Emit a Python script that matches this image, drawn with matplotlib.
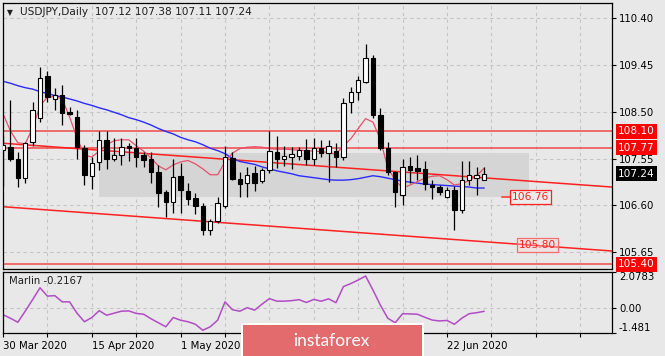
import numpy as np
import pandas as pd
import matplotlib
matplotlib.use('Agg')
import matplotlib.pyplot as plt
from matplotlib import transforms
from matplotlib.patches import Rectangle

# ---------------- data ----------------
symbol = 'USDJPY,Daily'
header_ohlc = [107.12, 107.38, 107.11, 107.24]
start_date = '2020-03-30'

opens = [107.72, 107.79, 107.55, 107.15, 107.88, 108.37, 109.23, 108.76, 108.84, 108.49,
         108.40, 107.76, 107.19, 107.47, 107.93, 107.53, 107.62, 107.81, 107.76, 107.62,
         107.55, 107.27, 106.86, 106.67, 107.19, 106.89, 106.75, 106.58, 106.10, 106.27,
         106.58, 107.57, 107.13, 107.05, 107.26, 107.10, 107.32, 107.69, 107.53, 107.59,
         107.60, 107.72, 107.55, 107.76, 107.66, 107.70, 107.58, 108.69, 108.90, 109.11,
         109.60, 108.43, 107.76, 107.28, 106.81, 107.40, 107.36, 107.33, 107.02, 106.98,
         106.77, 106.91, 106.50, 107.11, 107.15, 107.12]
highs = [108.00, 108.74, 107.69, 107.89, 108.70, 109.40, 109.33, 108.98, 109.04, 108.60,
         108.54, 107.82, 107.59, 108.10, 108.10, 107.96, 107.96, 107.86, 107.96, 107.69,
         107.69, 107.42, 106.91, 107.53, 107.45, 107.05, 106.84, 106.64, 106.33, 106.77,
         107.80, 107.69, 107.28, 107.38, 107.40, 107.35, 108.10, 108.00, 107.80, 107.79,
         107.79, 107.94, 107.96, 107.93, 107.93, 107.86, 108.77, 109.00, 109.23, 109.88,
         109.65, 108.57, 107.89, 107.30, 107.55, 107.59, 107.62, 107.49, 107.11, 107.01,
         106.98, 106.99, 107.49, 107.49, 107.38, 107.38]
lows = [107.00, 107.49, 106.98, 107.05, 107.81, 108.30, 108.70, 108.54, 108.23, 108.43,
        107.54, 107.01, 106.94, 107.32, 107.34, 107.49, 107.42, 107.49, 107.38, 107.38,
        107.05, 106.57, 106.37, 106.44, 106.44, 106.61, 106.42, 106.00, 106.00, 106.23,
        106.54, 107.12, 106.77, 106.77, 106.88, 107.05, 107.26, 107.35, 107.40, 107.33,
        107.51, 107.42, 107.42, 107.59, 107.08, 107.38, 107.52, 108.47, 108.73, 109.08,
        108.37, 107.72, 107.21, 106.57, 106.60, 107.05, 107.11, 106.91, 106.72, 106.81,
        106.75, 106.10, 106.44, 107.01, 106.81, 107.11]
closes = [107.82, 107.55, 107.15, 107.86, 108.54, 109.19, 108.81, 108.84, 108.47, 108.46,
          107.79, 107.22, 107.45, 107.93, 107.55, 107.62, 107.79, 107.76, 107.59, 107.52,
          107.27, 106.84, 106.66, 107.17, 106.91, 106.72, 106.58, 106.10, 106.27, 106.65,
          107.59, 107.13, 107.03, 107.22, 107.06, 107.32, 107.71, 107.53, 107.60, 107.64,
          107.72, 107.55, 107.76, 107.67, 107.80, 107.58, 108.67, 108.91, 109.15, 109.59,
          108.43, 107.76, 107.28, 106.86, 107.38, 107.32, 107.30, 107.03, 106.97, 106.86,
          106.91, 106.50, 107.11, 107.21, 107.22, 107.24]

ma_blue = [109.12, 109.08, 109.03, 108.99, 108.96, 108.91, 108.87, 108.83, 108.80, 108.76,
           108.72, 108.67, 108.63, 108.58, 108.54, 108.49, 108.44, 108.38, 108.34, 108.29,
           108.23, 108.16, 108.10, 108.05, 107.98, 107.93, 107.89, 107.83, 107.76, 107.71,
           107.65, 107.55, 107.49, 107.46, 107.43, 107.38, 107.34, 107.30, 107.27, 107.24,
           107.20, 107.18, 107.16, 107.14, 107.12, 107.11, 107.11, 107.12, 107.14, 107.17,
           107.20, 107.18, 107.15, 107.12, 107.09, 107.07, 107.05, 107.03, 107.02, 107.01,
           107.00, 106.99, 106.98, 106.97, 106.95, 106.95]
ma_red = [108.46, 108.11, 107.87, 107.85, 108.17, 108.62, 108.80, 108.81, 108.76, 108.39,
          107.97, 107.62, 107.58, 107.70, 107.83, 107.91, 107.93, 107.93, 107.81, 107.70,
          107.56, 107.40, 107.32, 107.42, 107.48, 107.51, 107.44, 107.34, 107.22, 107.22,
          107.48, 107.66, 107.75, 107.78, 107.79, 107.78, 107.75, 107.74, 107.74, 107.73,
          107.72, 107.71, 107.70, 107.69, 107.67, 107.64, 107.81, 107.95, 108.16, 108.36,
          108.29, 107.93, 107.36, 107.11, 106.95, 107.01, 107.08, 107.15, 107.19, 107.20,
          107.12, 107.01, 107.04, 107.10, 107.20, 107.35]
marlin = [-0.411, -0.613, -0.845, -0.208, 0.457, 1.140, 0.660, 0.689, 0.330, 0.330,
          -0.324, -0.816, -0.573, -0.179, -0.440, -0.324, -0.208, -0.191, -0.336, -0.382,
          -0.642, -0.874, -1.105, -0.573, -0.729, -0.816, -0.961, -1.308, -1.105, -0.729,
          0.330, -0.122, -0.208, -0.006, -0.150, 0.197, 0.515, 0.370, 0.370, 0.399,
          0.457, 0.295, 0.469, 0.370, 0.503, 0.284, 1.209, 1.383, 1.586, 1.817,
          1.007, 0.139, -0.613, -0.874, -0.353, -0.365, -0.382, -0.556, -0.718, -0.770,
          -0.741, -0.961, -0.613, -0.353, -0.295, -0.2167]

level_lines = [108.10, 107.77, 105.40]
trend_upper = [(0, 107.86), (82.3, 106.97)]
trend_lower = [(0, 106.57), (82.3, 105.67)]
range_box = {'start': 13.0, 'end': 71.1, 'low': 106.77, 'high': 107.66}
label_106 = 106.76
label_105 = 105.80

price_ticks = [110.40, 109.45, 108.50, 107.55, 106.60, 105.65]
marlin_ticks = [2.0783, 0.0, -1.481]
marlin_tick_labels = ['2.0783', '0.00', '-1.481']
date_label_days = ['2020-03-30', '2020-04-15', '2020-05-01', '2020-06-22']
date_tick_days = ['2020-04-07', '2020-04-23', '2020-05-11', '2020-05-19', '2020-05-27',
                  '2020-06-04', '2020-06-12', '2020-06-30', '2020-07-08', '2020-07-16']

# ---------------- figure ----------------
W, H = 665, 356
BG = '#e8e8e8'
GRID = '#c4c4c4'
FONT = 'DejaVu Sans'
FS = 7.3

fig = plt.figure(figsize=(W / 100, H / 100), dpi=100, facecolor=BG)

def fx(px):
    return px / W

def fy(py):
    return 1 - py / H

L, R = 2.5, 612
ax1 = fig.add_axes([fx(L), fy(269.3), fx(R - L), (269.3 - 2.7) / H], facecolor=BG)
ax2 = fig.add_axes([fx(L), fy(333.3), fx(R - L), (333.3 - 271.5) / H], facecolor=BG)

n = len(opens)
idx = np.arange(n)
dates = pd.bdate_range(start_date, periods=100)
xmin, xmax = -0.07, 82.3

for ax in (ax1, ax2):
    ax.set_xlim(xmin, xmax)
    for s in ax.spines.values():
        s.set_color('black')
        s.set_linewidth(0.9)
    for g in range(6, 80, 6):
        ax.axvline(g, color=GRID, lw=0.8, ls=(0, (3, 3)), zorder=0)

# main panel
ax1.set_ylim(105.298, 110.717)
for p in price_ticks:
    ax1.axhline(p, color=GRID, lw=0.8, ls=(0, (3, 3)), zorder=0)

ax1.add_patch(Rectangle((range_box['start'], range_box['low']),
                        range_box['end'] - range_box['start'],
                        range_box['high'] - range_box['low'],
                        facecolor='#d5d5d5', edgecolor='none', zorder=0.5))

for lv in level_lines:
    ax1.axhline(lv, color='#f04848', lw=1.1, zorder=1.5)
for tl in (trend_upper, trend_lower):
    ax1.plot([tl[0][0], tl[1][0]], [tl[0][1], tl[1][1]], color='#ff2020', lw=1.1, zorder=1.5)

ax1.plot(idx, ma_blue, color='#2a2aff', lw=1.0, zorder=2)
ax1.plot(idx, ma_red, color='#e8506a', lw=0.9, zorder=2.2)

o = np.array(opens); c = np.array(closes); h = np.array(highs); lo = np.array(lows)
up = c >= o
ax1.vlines(idx, lo, h, color='black', lw=0.9, zorder=3)
bw = 0.6
bottoms = np.minimum(o, c)
heights = np.maximum(np.abs(c - o), 0.012)
ax1.bar(idx[up], heights[up], bottom=bottoms[up], width=bw, facecolor='white',
        edgecolor='black', linewidth=0.8, zorder=3.5)
ax1.bar(idx[~up], heights[~up], bottom=bottoms[~up], width=bw, facecolor='black',
        edgecolor='black', linewidth=0.8, zorder=3.5)

# price labels 106.76 and 105.80
ax1.plot([67.4, 68.6], [label_106, label_106], color='#ff3030', lw=1.1, zorder=2)
ax1.text(68.75, label_106, f'{label_106:.2f}', color='#ff2020', fontsize=FS + 0.4, family=FONT,
         ha='left', va='center', zorder=5,
         bbox=dict(boxstyle='square,pad=0.18', facecolor='#ececec', edgecolor='#ff2020', lw=0.9))
ax1.text(69.75, label_105, f'{label_105:.2f}', color='#ff2020', fontsize=FS + 0.4, family=FONT,
         ha='left', va='center', zorder=5,
         bbox=dict(boxstyle='square,pad=0.18', facecolor=(1, 0.85, 0.85, 0.35),
                   edgecolor='#f07070', lw=0.9))

ax1.yaxis.tick_right()
ax1.set_yticks(price_ticks)
ax1.set_yticklabels([f'{p:.2f}' for p in price_ticks])
ax1.tick_params(axis='y', direction='out', length=3, width=0.8, labelsize=FS, pad=2,
                colors='black')
ax1.tick_params(axis='x', bottom=False, labelbottom=False)
for t in ax1.get_yticklabels():
    t.set_family(FONT)

# right-side level boxes
tb = transforms.blended_transform_factory(ax1.transAxes, ax1.transData)
xlab = (618 - L) / (R - L)
for val, fc in [(level_lines[0], '#ff0000'), (level_lines[1], '#ff0000'),
                (header_ohlc[3], '#000000'), (level_lines[2], '#ff0000')]:
    ax1.text(xlab, val, f'{val:.2f}', transform=tb, color='white', fontsize=FS + 0.3,
             family=FONT, ha='left', va='center', clip_on=False, zorder=6,
             bbox=dict(boxstyle='square,pad=0.22', facecolor=fc, edgecolor='none'))

# indicator panel
ax2.set_ylim(-1.481, 2.0783)
ax2.axhline(0, color=GRID, lw=0.8, ls=(0, (3, 3)), zorder=0)
ax2.plot(idx, marlin, color='#b24cc6', lw=1.1, zorder=2)
ax2.yaxis.tick_right()
ax2.set_yticks(marlin_ticks)
ax2.set_yticklabels(marlin_tick_labels)
ax2.tick_params(axis='y', direction='out', length=3, width=0.8, labelsize=FS, pad=2)
ylabels = ax2.get_yticklabels()
ylabels[0].set_va('top')
ylabels[2].set_va('bottom')
for t in ylabels:
    t.set_family(FONT)

tick_pos = [dates.get_loc(pd.Timestamp(d)) for d in date_label_days]
tick_lab = [f'{pd.Timestamp(d).day} {pd.Timestamp(d).strftime("%b %Y")}' for d in date_label_days]
minor_pos = [dates.get_loc(pd.Timestamp(d)) for d in date_tick_days]
ax2.set_xticks(tick_pos)
ax2.set_xticklabels(tick_lab)
ax2.set_xticks(minor_pos, minor=True)
ax2.tick_params(axis='x', which='both', direction='out', length=3, width=0.8,
                labelsize=FS, pad=2.5)
for t in ax2.get_xticklabels():
    t.set_ha('left')
    t.set_family(FONT)

ax2.text(6.7 / (R - L), 0.84, f'Marlin {marlin[-1]:.4f}', transform=ax2.transAxes,
         fontsize=FS, family=FONT, ha='left', va='center', color='#202020')

# header
fig.text(fx(7), fy(12.3), '\u25bc', fontsize=5.5, family=FONT, ha='left', va='center', color='#202020')
fig.text(fx(20), fy(12.3), symbol + '  ' + ' '.join(f'{v:.2f}' for v in header_ohlc),
         fontsize=7.6, family=FONT, ha='left', va='center', color='#202020')

# logo
fig.patches.append(Rectangle((fx(241), 0), fx(424) - fx(241), fy(323.3), transform=fig.transFigure,
                             facecolor='white', edgecolor='none', zorder=10))
fig.patches.append(Rectangle((fx(243.3), 0), fx(422) - fx(243.3), fy(325.3), transform=fig.transFigure,
                             facecolor='#e46b6d', edgecolor='none', zorder=11))
fig.text(fx(331.5), fy(340.5), 'instaforex', fontsize=12.5, family='Lato', color='white',
         ha='center', va='center', zorder=12)

fig.savefig('out.png', dpi=100, facecolor=BG)
